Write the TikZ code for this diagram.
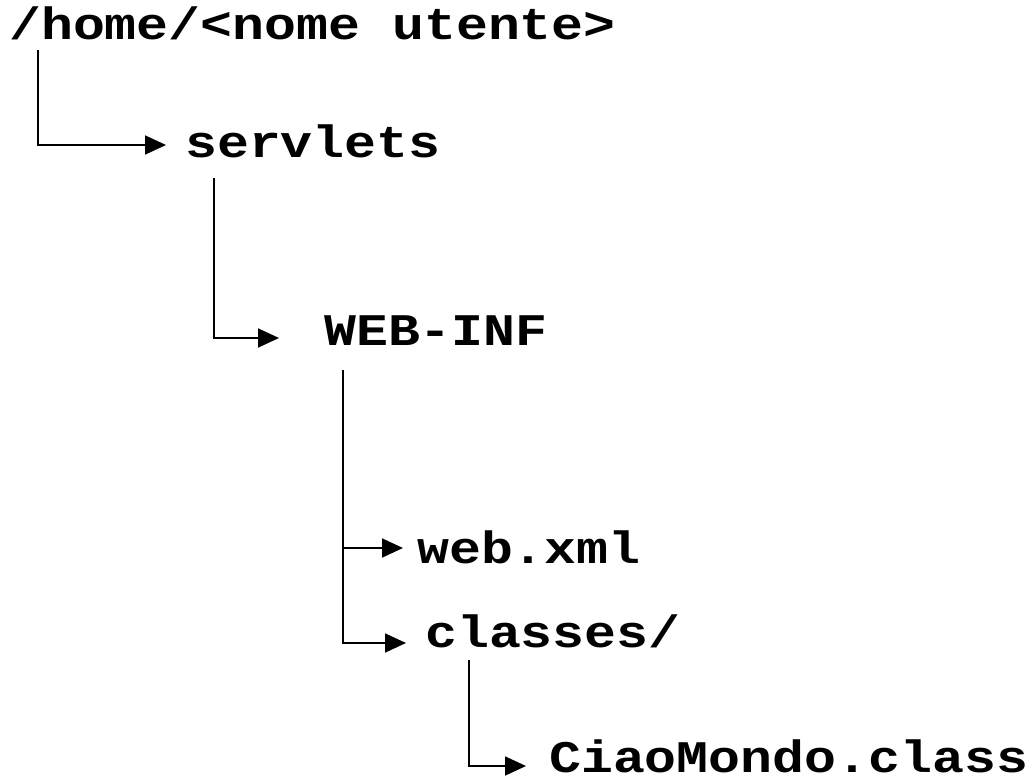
\documentclass[tikz,border=0pt]{standalone}
\usepackage{fontspec}
\usepackage{graphicx}
\setmonofont{Liberation Mono}
\usetikzlibrary{arrows.meta}
\newcommand{\squashtxt}[1]{\scalebox{1}[0.85]{#1}}
\begin{document}
\begin{tikzpicture}[x=1pt,y=-1pt,
  lbl/.style={inner sep=0pt, anchor=base west, font=\fontsize{53.2}{60}\selectfont\ttfamily\bfseries},
  arr/.style={line width=1.8pt, -{Triangle[length=21pt,width=19pt]}}]
\useasboundingbox[fill=white] (0,0) rectangle (1035,781);
\node[lbl] (home) at (9,40) {\squashtxt{/home/<nome utente>}};
\node[lbl] (servlets) at (185,157) {\squashtxt{servlets}};
\node[lbl] (webinf) at (324,345) {\squashtxt{WEB-INF}};
\node[lbl] (webxml) at (417,563) {\squashtxt{web.xml}};
\node[lbl] (classes) at (425,647) {\squashtxt{classes/}};
\node[lbl] (ciao) at (549,772) {\squashtxt{CiaoMondo.class}};
\coordinate (h0) at (38,50);
\coordinate (h1) at (166,145);
\coordinate (s0) at (214,178);
\coordinate (s1) at (279,338);
\coordinate (w0) at (343,370);
\coordinate (w1) at (343,548);
\coordinate (w1t) at (403,548);
\coordinate (w2) at (406,643);
\coordinate (c0) at (469,660);
\coordinate (c1) at (526,766);
\draw[arr] (h0) |- (h1);
\draw[arr] (s0) |- (s1);
\draw[arr] (w0) |- (w2);
\draw[arr] (w1) -- (w1t);
\draw[arr] (c0) |- (c1);
\end{tikzpicture}
\end{document}
